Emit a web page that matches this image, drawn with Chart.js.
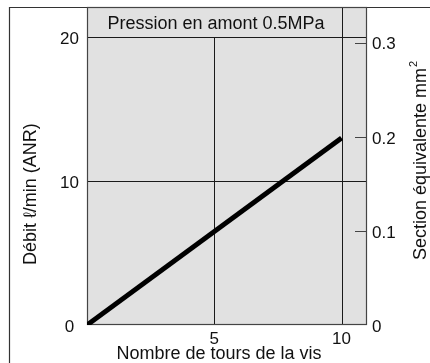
<!DOCTYPE html>
<html>
<head>
<meta charset="utf-8">
<script src="https://cdn.jsdelivr.net/npm/chart.js@4.4.1/dist/chart.umd.min.js"></script>
<style>
  html, body { margin: 0; padding: 0; background: #fff; }
  #chart { display: block; }
</style>
</head>
<body>
<canvas id="chart" width="430" height="363"></canvas>
<script>
// Data
const TURNS = [0, 10];          // nombre de tours de la vis
const FLOW = [0, 13];           // débit l/min (ANR)
const X_TICKS = [5, 10];
const FLOW_TICKS = [0, 10, 20];
const AREA_TICKS = [0, 0.1, 0.2, 0.3];
const X_GRID = [5, 10];
const FLOW_GRID = [10, 20];

const HEADER = 'Pression en amont 0.5MPa';
const X_TITLE = 'Nombre de tours de la vis';
const Y_TITLE = 'Débit ℓ/min (ANR)';
const Y2_TITLE = 'Section équivalente mm';

const FONT = "'Liberation Sans', Arial, sans-serif";
const INK = '#111';

// fixed axis boxes, no extra room for edge labels
function fixBox(size) {
  return s => {
    if (s.isHorizontal()) s.height = size; else s.width = size;
    s.paddingTop = 0;
    s.paddingBottom = 0;
    s.paddingLeft = 0;
    s.paddingRight = 0;
  };
}

// Grey plot, grid, border, frame and hand placed titles
const framePlugin = {
  id: 'framePlugin',
  beforeDraw(chart) {
    const { ctx, chartArea: a } = chart;
    ctx.save();
    ctx.fillStyle = '#e1e1e1';
    ctx.fillRect(a.left, a.top, a.right - a.left, a.bottom - a.top);

    // outer frame (left and top only)
    ctx.strokeStyle = '#333';
    ctx.lineWidth = 1.2;
    ctx.beginPath();
    ctx.moveTo(9.5, chart.height);
    ctx.lineTo(9.5, 7.5);
    ctx.lineTo(chart.width, 7.5);
    ctx.stroke();
    ctx.restore();
  },
  beforeDatasetsDraw(chart) {
    const { ctx, chartArea: a, scales } = chart;
    const { x, y, y2 } = scales;
    const headerBottom = y.getPixelForValue(FLOW_GRID[FLOW_GRID.length - 1]);
    ctx.save();
    ctx.strokeStyle = '#1a1a1a';
    ctx.lineWidth = 1;
    ctx.beginPath();
    FLOW_GRID.forEach(v => {
      const py = Math.round(y.getPixelForValue(v)) + 0.5;
      ctx.moveTo(a.left, py);
      ctx.lineTo(a.right, py);
    });
    // only the last vertical line crosses the header band
    X_GRID.forEach((v, i) => {
      const px = Math.round(x.getPixelForValue(v)) + 0.5;
      ctx.moveTo(px, a.bottom);
      ctx.lineTo(px, i === X_GRID.length - 1 ? a.top : headerBottom);
    });
    ctx.stroke();

    // right axis tick marks point inward
    ctx.strokeStyle = '#444';
    ctx.beginPath();
    AREA_TICKS.slice(1).forEach(v => {
      const py = Math.round(y2.getPixelForValue(v)) + 0.5;
      ctx.moveTo(a.right - 12, py);
      ctx.lineTo(a.right, py);
    });
    ctx.stroke();

    // plot border
    ctx.strokeStyle = '#444';
    ctx.lineWidth = 1.2;
    ctx.strokeRect(a.left + 0.5, a.top + 0.5, a.right - a.left - 1, a.bottom - a.top - 1);
    ctx.restore();
  },
  afterDraw(chart) {
    const { ctx } = chart;
    ctx.save();
    ctx.fillStyle = INK;
    ctx.font = '18px ' + FONT;
    ctx.textBaseline = 'alphabetic';

    ctx.textAlign = 'center';
    ctx.fillText(HEADER, 216, 29);
    ctx.fillText(X_TITLE, 219, 359);

    // left title, reads bottom to top
    ctx.save();
    ctx.translate(36, 265);
    ctx.rotate(-Math.PI / 2);
    ctx.textAlign = 'left';
    ctx.fillText(Y_TITLE, 0, 0);
    ctx.restore();

    // right title with superscript 2
    ctx.save();
    ctx.translate(426, 260);
    ctx.rotate(-Math.PI / 2);
    ctx.textAlign = 'left';
    ctx.fillText(Y2_TITLE, 0, 0);
    const w = ctx.measureText(Y2_TITLE).width;
    ctx.font = '11px ' + FONT;
    ctx.fillText('2', w + 1, -9);
    ctx.restore();

    ctx.restore();
  }
};

const ctx = document.getElementById('chart').getContext('2d');

new Chart(ctx, {
  type: 'line',
  data: {
    datasets: [{
      data: TURNS.map((t, i) => ({ x: t, y: FLOW[i] })),
      borderColor: '#000',
      borderWidth: 5,
      pointRadius: 0,
      tension: 0,
      yAxisID: 'y'
    }]
  },
  options: {
    responsive: false,
    animation: false,
    devicePixelRatio: 1,
    layout: { padding: { top: 7, left: 0, right: 0, bottom: 0 } },
    plugins: {
      legend: { display: false },
      tooltip: { enabled: false }
    },
    scales: {
      x: {
        type: 'linear',
        min: 0,
        max: 11,
        afterBuildTicks: s => { s.ticks = X_TICKS.map(v => ({ value: v })); },
        afterFit: fixBox(38),
        grid: { display: false, drawTicks: false },
        border: { display: false },
        ticks: { color: INK, font: { family: FONT, size: 17 }, padding: 4, maxRotation: 0 }
      },
      y: {
        type: 'linear',
        position: 'left',
        min: 0,
        max: 22.1,
        afterBuildTicks: s => { s.ticks = FLOW_TICKS.map(v => ({ value: v })); },
        afterFit: fixBox(87),
        grid: { display: false, drawTicks: false },
        border: { display: false },
        ticks: { color: INK, font: { family: FONT, size: 17 }, padding: 8, crossAlign: 'center', labelOffset: 2 }
      },
      y2: {
        type: 'linear',
        position: 'right',
        min: 0,
        max: 0.338,
        afterBuildTicks: s => { s.ticks = AREA_TICKS.map(v => ({ value: v })); },
        afterFit: fixBox(63),
        grid: { display: false, drawTicks: false },
        border: { display: false },
        ticks: { color: INK, font: { family: FONT, size: 17 }, padding: 5, labelOffset: 2 }
      }
    }
  },
  plugins: [framePlugin]
});
</script>
</body>
</html>
